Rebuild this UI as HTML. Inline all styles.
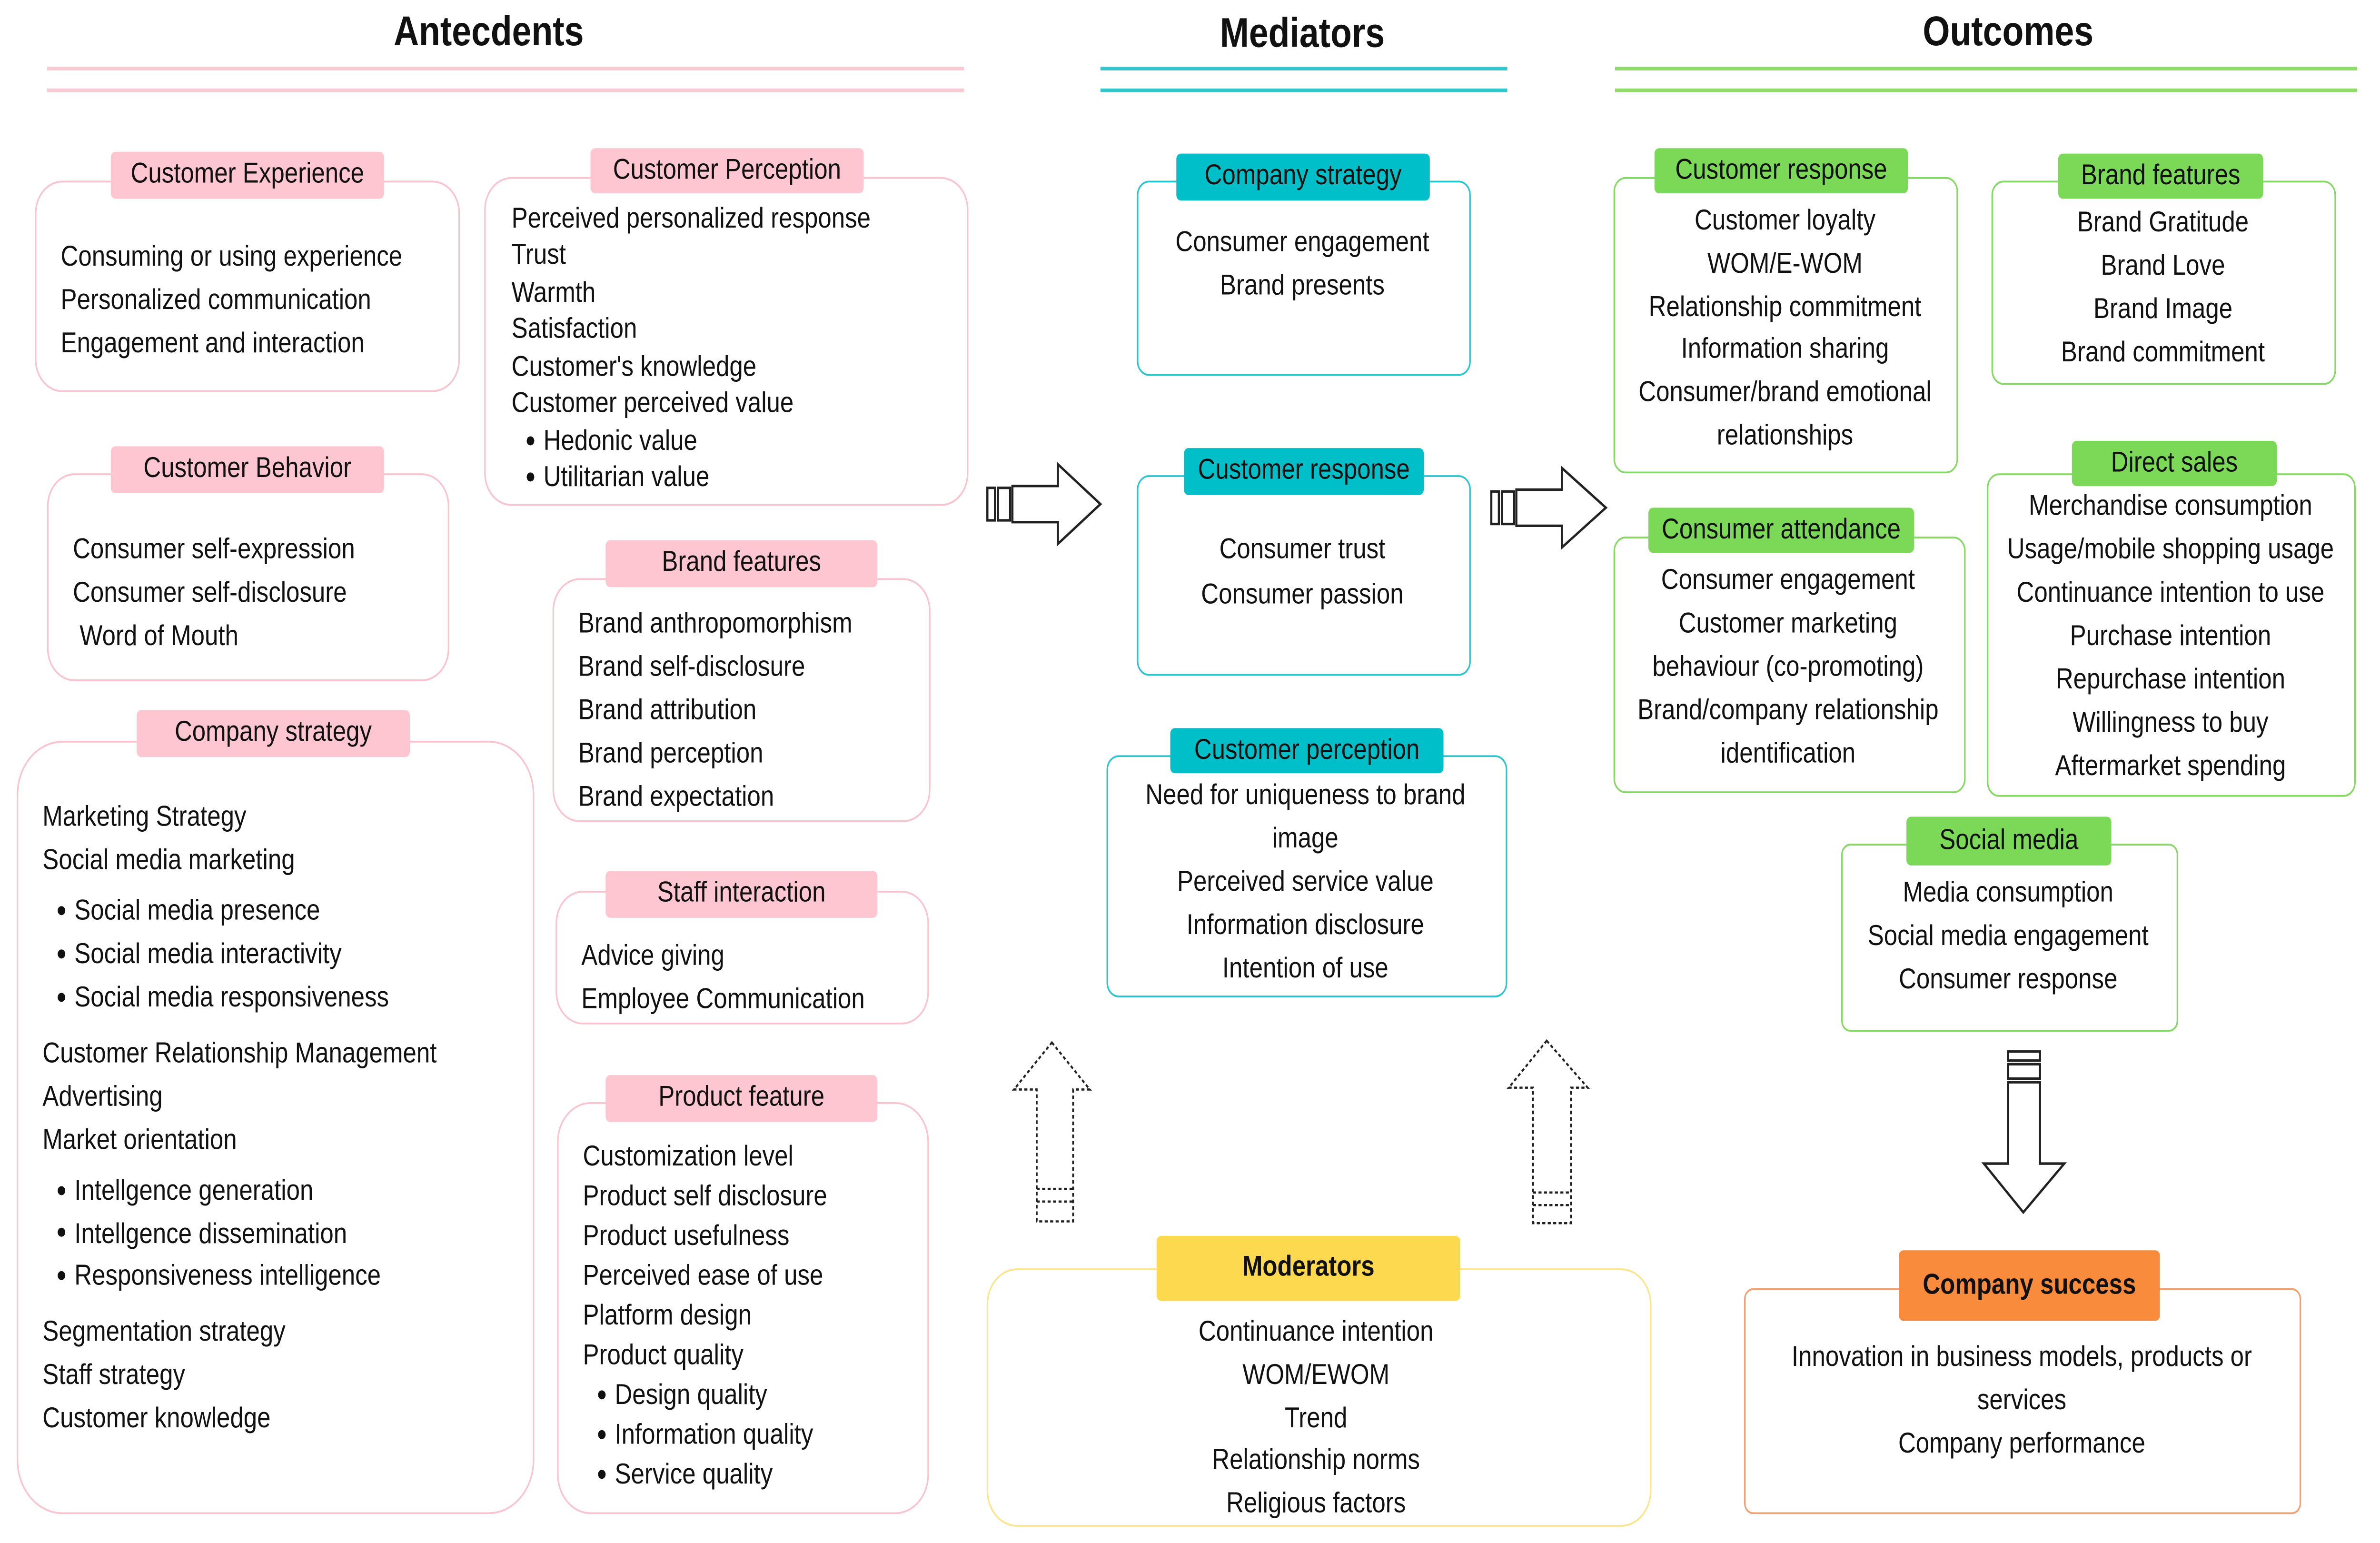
<!DOCTYPE html>
<html><head><meta charset="utf-8"><style>
html,body{margin:0;padding:0;background:#fff;overflow:hidden;}
body{width:100vw;height:100vh;position:relative;}
#s{position:absolute;left:0;top:0;width:1568px;height:854px;transform:scale(3.7953);transform-origin:0 0;font-family:"Liberation Sans",sans-serif;color:#111;}
.b{position:absolute;border:1.5px solid;border-radius:18px;box-sizing:border-box;background:#fff;}
.p{border-color:#f9c3cf;}.c{border-color:#2cc5cf;}.g{border-color:#86d864;}.y{border-color:#fbe58c;}.o{border-color:#f6a072;}
.l{position:absolute;box-sizing:border-box;text-align:center;font-size:16px;border-radius:3px;display:flex;align-items:center;justify-content:center;}
.lp{background:#fdc6d1;}.lc{background:#00bfc8;}.lg{background:#7cd957;}.ly{background:#fdd94f;font-weight:bold;}.lo{background:#f98b3d;font-weight:bold;}
.t{position:absolute;font-size:16px;white-space:nowrap;}
.ctr{text-align:center;transform:translateX(-50%);}
.h{position:absolute;font-weight:bold;font-size:23px;transform:translateX(-50%);white-space:nowrap;}
.ln{position:absolute;height:1.5px;}
.bu{position:relative;padding-left:21px;}
.bu:before{content:"";position:absolute;left:10px;top:45%;width:5px;height:5px;border-radius:50%;background:#111;transform:translateY(-50%);}
</style></head><body><div id="s">

<div class="h" style="left:322px;top:4px">Antecdents</div>
<div class="h" style="left:858px;top:5px">Mediators</div>
<div class="h" style="left:1323px;top:4px">Outcomes</div>
<div class="ln" style="left:31px;width:604px;top:37px;background:#fbc9d4"></div>
<div class="ln" style="left:31px;width:604px;top:49px;background:#fbc9d4"></div>
<div class="ln" style="left:725px;width:268px;top:37px;background:#35c5ce"></div>
<div class="ln" style="left:725px;width:268px;top:49px;background:#35c5ce"></div>
<div class="ln" style="left:1064px;width:489px;top:37px;background:#8edc6c"></div>
<div class="ln" style="left:1064px;width:489px;top:49px;background:#8edc6c"></div>

<div class="b p" style="left:23px;top:100px;width:280px;height:117px"></div>
<div class="l lp" style="left:73px;top:84px;width:180px;height:26px">Customer Experience</div>
<div class="t" style="left:40px;top:131px;line-height:24px">Consuming or using experience<br>Personalized communication<br>Engagement and interaction</div>

<div class="b p" style="left:319px;top:98px;width:319px;height:182px"></div>
<div class="l lp" style="left:389px;top:82px;width:180px;height:25px">Customer Perception</div>
<div class="t" style="left:337px;top:111.5px;line-height:20.5px">Perceived personalized response<br>Trust<br>Warmth<br>Satisfaction<br>Customer's knowledge<br>Customer perceived value<div class="bu">Hedonic value</div><div class="bu">Utilitarian value</div></div>

<div class="b p" style="left:31px;top:262px;width:265px;height:115px"></div>
<div class="l lp" style="left:73px;top:247px;width:180px;height:26px">Customer Behavior</div>
<div class="t" style="left:48px;top:293px;line-height:24px">Consumer self-expression<br>Consumer self-disclosure<br>&nbsp;Word of Mouth</div>

<div class="b p" style="left:11px;top:410px;width:341px;height:428px;border-radius:30px"></div>
<div class="l lp" style="left:90px;top:393px;width:180px;height:26px">Company strategy</div>
<div class="t" style="left:28px;top:441px;line-height:24px">Marketing Strategy<br>Social media marketing</div>
<div class="t" style="left:28px;top:493px;line-height:24px"><div class="bu">Social media presence</div><div class="bu">Social media interactivity</div><div class="bu">Social media responsiveness</div></div>
<div class="t" style="left:28px;top:572px;line-height:24px">Customer Relationship Management<br>Advertising<br>Market orientation</div>
<div class="t" style="left:28px;top:648px;line-height:23.5px"><div class="bu">Intellgence generation</div><div class="bu">Intellgence dissemination</div><div class="bu">Responsiveness intelligence</div></div>
<div class="t" style="left:28px;top:726px;line-height:24px">Segmentation strategy<br>Staff strategy<br>Customer knowledge</div>

<div class="b p" style="left:364px;top:320px;width:249px;height:135px"></div>
<div class="l lp" style="left:399px;top:299px;width:179px;height:26px">Brand features</div>
<div class="t" style="left:381px;top:334px;line-height:24px">Brand anthropomorphism<br>Brand self-disclosure<br>Brand attribution<br>Brand perception<br>Brand expectation</div>

<div class="b p" style="left:366px;top:493px;width:246px;height:74px"></div>
<div class="l lp" style="left:399px;top:482px;width:179px;height:26px">Staff interaction</div>
<div class="t" style="left:383px;top:518px;line-height:24px">Advice giving<br>Employee Communication</div>

<div class="b p" style="left:367px;top:610px;width:245px;height:228px;border-radius:22px"></div>
<div class="l lp" style="left:399px;top:595px;width:179px;height:26px">Product feature</div>
<div class="t" style="left:384px;top:630px;line-height:22px">Customization level<br>Product self disclosure<br>Product usefulness<br>Perceived ease of use<br>Platform design<br>Product quality<div class="bu">Design quality</div><div class="bu">Information quality</div><div class="bu">Service quality</div></div>

<div class="b c" style="left:749px;top:100px;width:220px;height:108px;border-radius:8px"></div>
<div class="l lc" style="left:775px;top:85px;width:167px;height:26px">Company strategy</div>
<div class="t ctr" style="left:858px;top:123px;line-height:24px">Consumer engagement<br>Brand presents</div>

<div class="b c" style="left:749px;top:263px;width:220px;height:111px;border-radius:8px"></div>
<div class="l lc" style="left:780px;top:248px;width:158px;height:26px">Customer response</div>
<div class="t ctr" style="left:858px;top:293px;line-height:24.5px">Consumer trust<br>Consumer passion</div>

<div class="b c" style="left:729px;top:418px;width:264px;height:134px;border-radius:8px"></div>
<div class="l lc" style="left:771px;top:403px;width:180px;height:25px">Customer perception</div>
<div class="t ctr" style="left:860px;top:429px;line-height:24px">Need for uniqueness to brand<br>image<br>Perceived service value<br>Information disclosure<br>Intention of use</div>

<div class="b y" style="left:650px;top:702px;width:438px;height:143px;border-radius:20px"></div>
<div class="l ly" style="left:762px;top:684px;width:200px;height:36px">Moderators</div>
<div class="t ctr" style="left:867px;top:726px;line-height:23.8px">Continuance intention<br>WOM/EWOM<br>Trend<br>Relationship norms<br>Religious factors</div>

<div class="b g" style="left:1063px;top:98px;width:227px;height:164px;border-radius:8px"></div>
<div class="l lg" style="left:1090px;top:82px;width:167px;height:25px">Customer response</div>
<div class="t ctr" style="left:1176px;top:111px;line-height:23.8px">Customer loyalty<br>WOM/E-WOM<br>Relationship commitment<br>Information sharing<br>Consumer/brand emotional<br>relationships</div>

<div class="b g" style="left:1312px;top:100px;width:227px;height:113px;border-radius:8px"></div>
<div class="l lg" style="left:1356px;top:85px;width:135px;height:25px">Brand features</div>
<div class="t ctr" style="left:1425px;top:112px;line-height:24px">Brand Gratitude<br>Brand Love<br>Brand Image<br>Brand commitment</div>

<div class="b g" style="left:1063px;top:297px;width:232px;height:142px;border-radius:8px"></div>
<div class="l lg" style="left:1086px;top:281px;width:175px;height:25px">Consumer attendance</div>
<div class="t ctr" style="left:1178px;top:310px;line-height:24px">Consumer engagement<br>Customer marketing<br>behaviour (co-promoting)<br>Brand/company relationship<br>identification</div>

<div class="b g" style="left:1309px;top:262px;width:243px;height:179px;border-radius:8px"></div>
<div class="l lg" style="left:1365px;top:244px;width:135px;height:25px">Direct sales</div>
<div class="t ctr" style="left:1430px;top:269px;line-height:24px">Merchandise consumption<br>Usage/mobile shopping usage<br>Continuance intention to use<br>Purchase intention<br>Repurchase intention<br>Willingness to buy<br>Aftermarket spending</div>

<div class="b g" style="left:1213px;top:467px;width:222px;height:104px;border-radius:6px"></div>
<div class="l lg" style="left:1256px;top:452px;width:135px;height:27px">Social media</div>
<div class="t ctr" style="left:1323px;top:483px;line-height:24px">Media consumption<br>Social media engagement<br>Consumer response</div>

<div class="b o" style="left:1149px;top:713px;width:367px;height:125px;border-radius:6px"></div>
<div class="l lo" style="left:1251px;top:692px;width:172px;height:39px">Company success</div>
<div class="t ctr" style="left:1332px;top:740px;line-height:24px">Innovation in business models, products or<br>services<br>Company performance</div>

<svg style="position:absolute;left:0;top:0" width="1568" height="854" fill="none" stroke="#222" stroke-width="1.4">
<rect x="650.5" y="270" width="5" height="18" fill="#fff"/><rect x="657.5" y="270" width="8" height="18" fill="#fff"/>
<polygon points="667,269 697,269 697,257 725,279 697,301 697,289 667,289" fill="#fff"/>
<rect x="982.5" y="272" width="5" height="18" fill="#fff"/><rect x="989.5" y="272" width="8" height="18" fill="#fff"/>
<polygon points="999,271 1029,271 1029,259 1058,281 1029,303 1029,291 999,291" fill="#fff"/>
<g stroke-dasharray="2,1.6" stroke-width="1.2">
<polygon points="693,577 718,603 707,603 707,676 683,676 683,603 668,603"/>
<line x1="683" y1="658" x2="707" y2="658"/><line x1="683" y1="665" x2="707" y2="665"/>
<polygon points="1019,576 1046,602 1035,602 1035,677 1010,677 1010,602 994,602"/>
<line x1="1010" y1="660" x2="1035" y2="660"/><line x1="1010" y1="667" x2="1035" y2="667"/>
</g>
<rect x="1323" y="582" width="21" height="5" fill="#fff"/><rect x="1323" y="589" width="21" height="8" fill="#fff"/>
<polygon points="1323,599 1344,599 1344,644 1360,644 1333,671 1307,644 1323,644" fill="#fff"/>
</svg>
</div>
<script>
(function(){
  function fit(){
    var w=window.innerWidth||document.documentElement.clientWidth||5951;
    var h=window.innerHeight||document.documentElement.clientHeight||3241;
    document.getElementById('s').style.transform='scale('+(w/1568)+','+(h/854)+')';
  }
  fit();
  window.addEventListener('resize',fit);
})();
</script>
</body></html>
